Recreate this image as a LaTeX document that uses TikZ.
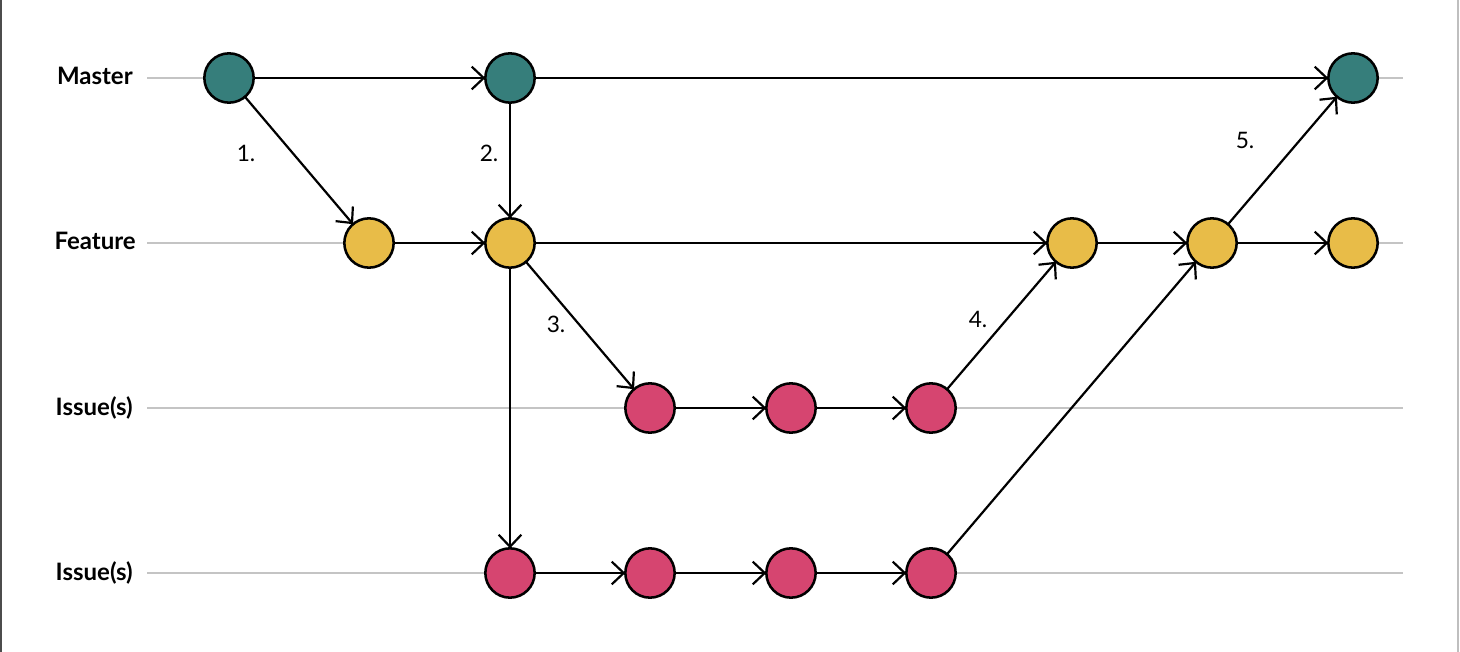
\documentclass[tikz,border=0pt]{standalone}
\usepackage{fontspec}
\setmainfont{Lato}
\usetikzlibrary{arrows.meta}
\definecolor{cMaster}{HTML}{367E7B}
\definecolor{cFeature}{HTML}{E8BC48}
\definecolor{cIssue}{HTML}{D64570}
\definecolor{laneGray}{HTML}{C4C4C4}
\begin{document}
\begin{tikzpicture}[x=0.75pt,y=-0.75pt,
  commit/.style={circle,draw=black,line width=1.9pt,minimum size=37pt,inner sep=0pt,outer sep=0pt},
  master/.style={commit,fill=cMaster},
  feature/.style={commit,fill=cFeature},
  issue/.style={commit,fill=cIssue},
  flow/.style={-{Straight Barb[length=9pt,width=17pt]},line width=1.65pt,black},
  lane/.style={draw=laneGray,line width=1.9pt},
  lanelabel/.style={anchor=base east,font=\bfseries\fontsize{18}{20}\selectfont,inner sep=0pt},
  steplabel/.style={anchor=base,font=\fontsize{17}{20}\selectfont,inner sep=0pt}]
\useasboundingbox (0,0) rectangle (1460,652);
\fill[white] (0,0) rectangle (1460,652);
\draw[draw=black!70,line width=1.5pt] (1,0) -- (1,652);
\draw[draw=black!25,line width=1.5pt] (1458,0) -- (1458,652);
% lanes
\coordinate (l1a) at (147,78);  \coordinate (l1b) at (1403,78);
\coordinate (l2a) at (147,243); \coordinate (l2b) at (1403,243);
\coordinate (l3a) at (147,408); \coordinate (l3b) at (1403,408);
\coordinate (l4a) at (147,573); \coordinate (l4b) at (1403,573);
\draw[lane] (l1a) -- (l1b);
\draw[lane] (l2a) -- (l2b);
\draw[lane] (l3a) -- (l3b);
\draw[lane] (l4a) -- (l4b);
% lane labels
\node[lanelabel] (lbM) at (133,85) {Master};
\node[lanelabel] (lbF) at (136,250) {Feature};
\node[lanelabel] (lbI1) at (133,415) {Issue(s)};
\node[lanelabel] (lbI2) at (133,580) {Issue(s)};
% commits
\node[master] (M1) at (229,78) {};
\node[master] (M2) at (510,78) {};
\node[master] (M3) at (1353,78) {};
\node[feature] (F1) at (369,243) {};
\node[feature] (F2) at (510,243) {};
\node[feature] (F3) at (1072,243) {};
\node[feature] (F4) at (1212,243) {};
\node[feature] (F5) at (1353,243) {};
\node[issue] (I1) at (650,408) {};
\node[issue] (I2) at (791,408) {};
\node[issue] (I3) at (931,408) {};
\node[issue] (J1) at (510,573) {};
\node[issue] (J2) at (650,573) {};
\node[issue] (J3) at (791,573) {};
\node[issue] (J4) at (931,573) {};
% connectors
\draw[flow] (M1) -- (M2);
\draw[flow] (M2) -- (M3);
\draw[flow] (M1) -- (F1);
\draw[flow] (M2) -- (F2);
\draw[flow] (F1) -- (F2);
\draw[flow] (F2) -- (F3);
\draw[flow] (F3) -- (F4);
\draw[flow] (F4) -- (F5);
\draw[flow] (F4) -- (M3);
\draw[flow] (F2) -- (I1);
\draw[flow] (I1) -- (I2);
\draw[flow] (I2) -- (I3);
\draw[flow] (I3) -- (F3);
\draw[flow] (F2) -- (J1);
\draw[flow] (J1) -- (J2);
\draw[flow] (J2) -- (J3);
\draw[flow] (J3) -- (J4);
\draw[flow] (J4) -- (F4);
% step labels
\node[steplabel] (s1) at (246,162) {1.};
\node[steplabel] (s2) at (489,162) {2.};
\node[steplabel] (s3) at (556,332) {3.};
\node[steplabel] (s4) at (978,327) {4.};
\node[steplabel] (s5) at (1245,149) {5.};
\end{tikzpicture}
\end{document}
